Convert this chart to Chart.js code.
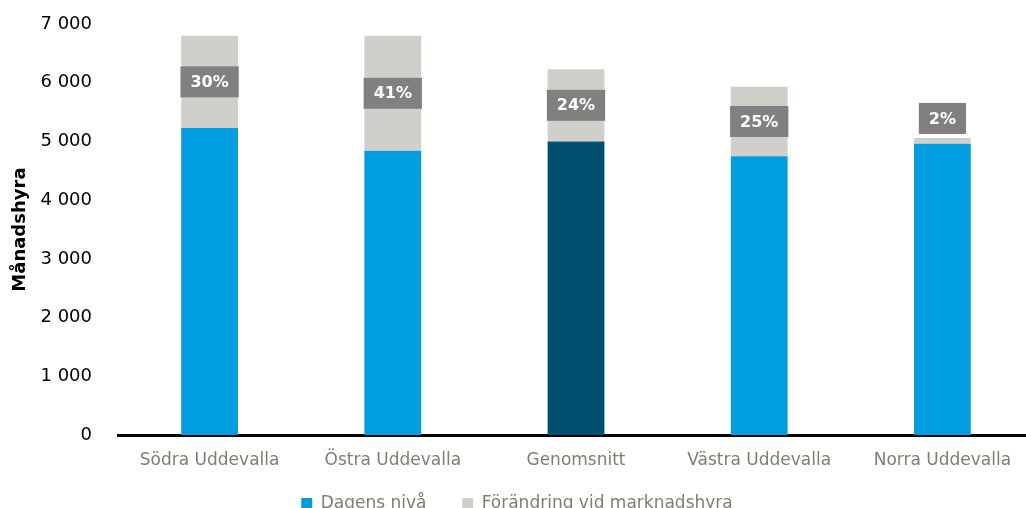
<!DOCTYPE html>
<html>
<head>
<meta charset="utf-8">
<script src="https://cdn.jsdelivr.net/npm/chart.js@4"></script>
<style>
  html, body { margin: 0; padding: 0; background: #fff; overflow: hidden; }
  #wrap { width: 1040px; height: 522px; }
</style>
</head>
<body>
<div id="wrap"><canvas id="chart"></canvas></div>
<script>
// Data
const categories = ['Södra Uddevalla', 'Östra Uddevalla', 'Genomsnitt', 'Västra Uddevalla', 'Norra Uddevalla'];
const dagensNiva = [5230, 4840, 5000, 4750, 4960];
const forandring = [1570, 1960, 1230, 1180, 100];
const forandringLabels = ['30%', '41%', '24%', '25%', '2%'];
const yTicks = [0, 1000, 2000, 3000, 4000, 5000, 6000, 7000];

const FONT = "'DejaVu Sans', sans-serif";
const BLUE = '#009ee0';
const DARK = '#004f71';
const LIGHT = '#d0cfca';
const GREYTEXT = '#7f7e70';

// Bar colours: the average bar is dark
const baseColors = categories.map((c) => (c === 'Genomsnitt' ? DARK : BLUE));

// Percent boxes on the grey segment
const percentBoxes = {
  id: 'percentBoxes',
  afterDatasetsDraw(chart) {
    const ctx = chart.ctx;
    const meta = chart.getDatasetMeta(1);
    ctx.save();
    ctx.font = 'bold 16px ' + FONT;
    ctx.textAlign = 'center';
    ctx.textBaseline = 'middle';
    meta.data.forEach((el, i) => {
      const txt = forandringLabels[i];
      const w = ctx.measureText(txt).width + 20;
      const h = 31;
      const segH = el.base - el.y;
      let cy = (el.y + el.base) / 2;
      if (segH < h) cy = el.y - 4 - h / 2;
      ctx.fillStyle = '#808080';
      ctx.fillRect(el.x - w / 2, cy - h / 2, w, h);
      ctx.fillStyle = '#ffffff';
      ctx.fillText(txt, el.x, cy + 1);
    });
    ctx.restore();
  }
};

new Chart(document.getElementById('chart'), {
  type: 'bar',
  data: {
    labels: categories,
    datasets: [
      {
        label: 'Dagens nivå',
        data: dagensNiva,
        backgroundColor: baseColors,
        borderWidth: 0
      },
      {
        label: 'Förändring vid marknadshyra',
        data: forandring,
        backgroundColor: LIGHT,
        borderWidth: 0
      }
    ]
  },
  options: {
    responsive: true,
    maintainAspectRatio: false,
    animation: false,
    layout: { padding: { top: 0, right: 6, left: 0, bottom: 0 } },
    datasets: {
      bar: { categoryPercentage: 1.0, barPercentage: 0.31 }
    },
    plugins: {
      tooltip: { enabled: false },
      legend: {
        position: 'bottom',
        labels: {
          color: GREYTEXT,
          font: { family: FONT, size: 17 },
          boxWidth: 11,
          boxHeight: 11,
          padding: 14,
          generateLabels() {
            // trailing spaces widen the gap between the two items
            return [
              { text: 'Dagens nivå    ', fillStyle: BLUE, strokeStyle: BLUE, lineWidth: 0, datasetIndex: 0, fontColor: GREYTEXT },
              { text: 'Förändring vid marknadshyra', fillStyle: LIGHT, strokeStyle: LIGHT, lineWidth: 0, datasetIndex: 1, fontColor: GREYTEXT }
            ];
          }
        }
      }
    },
    scales: {
      x: {
        stacked: true,
        grid: { display: false },
        border: { display: true, color: '#000', width: 3 },
        ticks: {
          color: GREYTEXT,
          font: { family: FONT, size: 17 },
          padding: 7,
          maxRotation: 0
        },
        // empty title only adds a little room above the legend
        title: {
          display: true,
          text: '',
          font: { size: 1, lineHeight: 1 },
          padding: { top: 2.5, bottom: 0 }
        }
      },
      y: {
        stacked: true,
        min: 0,
        max: 7000,
        afterBuildTicks(scale) {
          scale.ticks = yTicks.map((v) => ({ value: v }));
        },
        afterFit(scale) {
          scale.width = 118;
          scale.paddingTop = 24;
        },
        grid: { display: false },
        border: { display: false },
        ticks: {
          color: '#000',
          font: { family: FONT, size: 18 },
          padding: 18,
          callback: (v) => String(v).replace(/\B(?=(\d{3})+(?!\d))/g, ' ')
        },
        title: {
          display: true,
          text: 'Månadshyra',
          color: '#000',
          font: { family: FONT, size: 18, weight: 'bold' },
          padding: { top: 10, bottom: 0 }
        }
      }
    }
  },
  plugins: [percentBoxes]
});
</script>
</body>
</html>
